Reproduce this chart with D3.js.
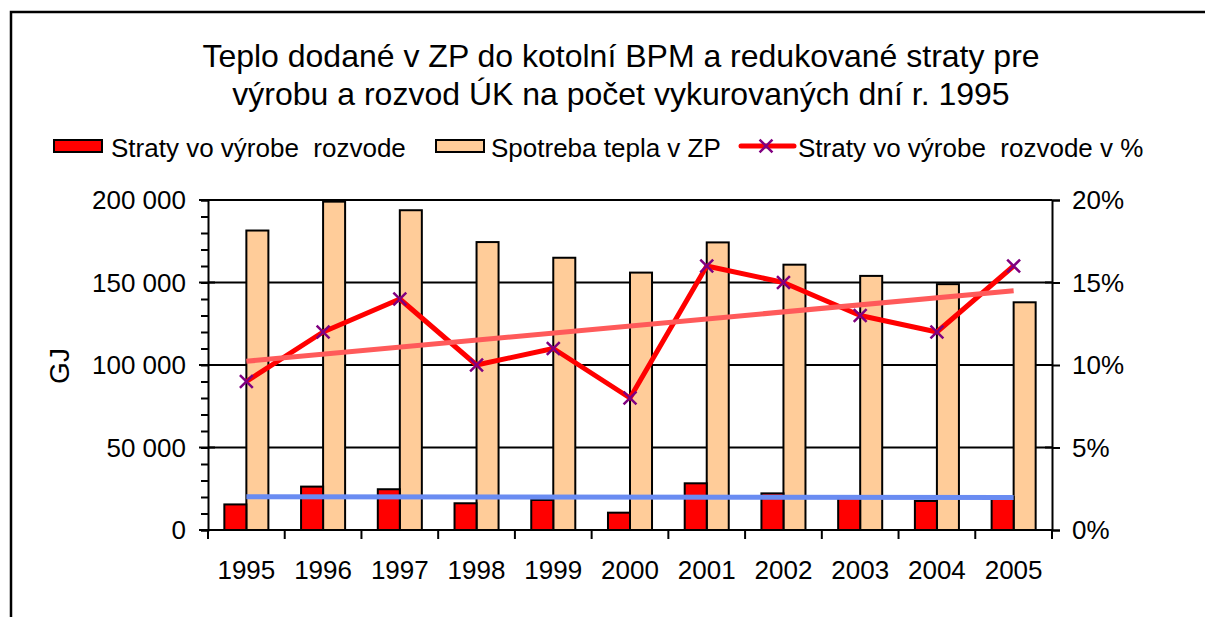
<!DOCTYPE html>
<html>
<head>
<meta charset="utf-8">
<script src="https://cdn.jsdelivr.net/npm/d3@7"></script>
<style>
  html, body { margin: 0; padding: 0; background: #fff; }
  svg { display: block; }
  text { font-family: "Liberation Sans", Arial, sans-serif; fill: #000; white-space: pre; }
</style>
</head>
<body>
<svg id="chart" width="1205" height="617"></svg>
<script>
const years = ["1995","1996","1997","1998","1999","2000","2001","2002","2003","2004","2005"];
const losses = [15500, 26300, 24700, 16200, 18200, 10500, 28300, 22200, 20000, 17600, 20000];
const consumption = [181500, 199000, 193800, 174500, 165000, 156000, 174300, 160800, 154000, 149000, 138000];
const lossPct = [9, 12, 14, 10, 11, 8, 16, 15, 13, 12, 16];
const leftTicks = [0, 50000, 100000, 150000, 200000];
const rightTicks = [0, 5, 10, 15, 20];
const titleLines = ["Teplo dodané v ZP do kotolní BPM a redukované straty pre", "výrobu a rozvod ÚK na počet vykurovaných dní r. 1995"];
const legendLabels = ["Straty vo výrobe  rozvode", "Spotreba tepla v ZP", "Straty vo výrobe  rozvode v %"];
const yLabel = "GJ";

const svg = d3.select("#chart");
const L = 208, R = 1052, T = 200, B = 530;

// outer border
svg.append("rect").attr("x", 11).attr("y", 12).attr("width", 1250).attr("height", 700)
  .attr("fill", "none").attr("stroke", "#000").attr("stroke-width", 2.5);

// title
svg.append("g").selectAll("text").data(titleLines).join("text")
  .attr("x", 621).attr("y", (d, i) => 67 + i * 38)
  .attr("text-anchor", "middle").attr("font-size", 32).text(d => d);

const x = d3.scaleBand().domain(years).range([L, R]).paddingInner(0.426).paddingOuter(0.213);
const xs = d3.scaleBand().domain(["loss", "cons"]).range([0, x.bandwidth()]);
const y = d3.scaleLinear().domain([0, 200000]).range([B, T]);
const y2 = d3.scaleLinear().domain([0, 20]).range([B, T]);

// gridlines
svg.append("g").selectAll("line").data(leftTicks.slice(1)).join("line")
  .attr("x1", L).attr("x2", R).attr("y1", d => y(d)).attr("y2", d => y(d))
  .attr("stroke", "#000").attr("stroke-width", 2);

// bars
const g = svg.append("g");
g.selectAll("rect.cons").data(consumption).join("rect").attr("class", "cons")
  .attr("x", (d, i) => x(years[i]) + xs("cons")).attr("width", xs.bandwidth())
  .attr("y", d => y(d)).attr("height", d => B - y(d))
  .attr("fill", "#ffcc99").attr("stroke", "#000").attr("stroke-width", 2);
g.selectAll("rect.loss").data(losses).join("rect").attr("class", "loss")
  .attr("x", (d, i) => x(years[i]) + xs("loss")).attr("width", xs.bandwidth())
  .attr("y", d => y(d)).attr("height", d => B - y(d))
  .attr("fill", "#ff0000").attr("stroke", "#000").attr("stroke-width", 2);

// axes lines
const axesG = svg.append("g");
const yAxisL = d3.axisLeft(y).tickValues(d3.range(0, 200001, 10000)).tickSize(7).tickFormat("");
axesG.append("g").attr("transform", `translate(${L},0)`).call(yAxisL)
  .call(a => a.selectAll("path,line").attr("stroke", "#000").attr("stroke-width", 2));
axesG.append("g").selectAll("line").data(leftTicks).join("line")
  .attr("x1", L - 9).attr("x2", L + 7).attr("y1", d => y(d)).attr("y2", d => y(d))
  .attr("stroke", "#000").attr("stroke-width", 2);
axesG.append("g").selectAll("text").data(leftTicks).join("text")
  .attr("x", 186).attr("y", d => y(d)).attr("dy", "0.36em")
  .attr("text-anchor", "end").attr("font-size", 26)
  .text(d => d3.format(",")(d).replace(/,/g, " "));

const yAxisR = d3.axisRight(y2).tickValues(rightTicks).tickSize(8).tickFormat("");
axesG.append("g").attr("transform", `translate(${R},0)`).call(yAxisR)
  .call(a => a.selectAll("path,line").attr("stroke", "#000").attr("stroke-width", 2));
axesG.append("g").selectAll("line").data(rightTicks).join("line")
  .attr("x1", R - 7).attr("x2", R).attr("y1", d => y2(d)).attr("y2", d => y2(d))
  .attr("stroke", "#000").attr("stroke-width", 2);
axesG.append("g").selectAll("text").data(rightTicks).join("text")
  .attr("x", 1072).attr("y", d => y2(d)).attr("dy", "0.36em")
  .attr("font-size", 26).text(d => d + "%");

// x axis
const xb = x.step();
const bounds = d3.range(years.length + 1).map(i => L + i * xb);
axesG.append("line").attr("x1", L).attr("x2", R).attr("y1", B).attr("y2", B)
  .attr("stroke", "#000").attr("stroke-width", 2);
axesG.append("g").selectAll("line").data(bounds).join("line")
  .attr("x1", d => d).attr("x2", d => d).attr("y1", B).attr("y2", B + 9)
  .attr("stroke", "#000").attr("stroke-width", 2);
axesG.append("g").selectAll("text").data(years).join("text")
  .attr("x", d => x(d) + x.bandwidth() / 2).attr("y", 579)
  .attr("text-anchor", "middle").attr("font-size", 26).text(d => d);

// y label
svg.append("text").attr("transform", "translate(69,366) rotate(-90)")
  .attr("text-anchor", "middle").attr("font-size", 28).text(yLabel);

// trend lines (linear regression)
function regress(vals) {
  const n = vals.length, mx = (n - 1) / 2, my = d3.mean(vals);
  let sxy = 0, sxx = 0;
  vals.forEach((v, i) => { sxy += (i - mx) * (v - my); sxx += (i - mx) * (i - mx); });
  const b = sxy / sxx, a = my - b * mx;
  return [a, a + b * (n - 1)];
}
const cx = d => x(d) + x.bandwidth() / 2;
const lossTrend = regress(losses);
const pctTrend = regress(lossPct);

svg.append("path")
  .attr("d", d3.line()([[cx(years[0]), y(lossTrend[0])], [cx(years[years.length - 1]), y(lossTrend[1])]]))
  .attr("stroke", "#6a8cf2").attr("stroke-width", 5).attr("fill", "none");

// percent line
const lineGen = d3.line().x((d, i) => cx(years[i])).y(d => y2(d));
svg.append("path").datum(lossPct).attr("d", lineGen)
  .attr("fill", "none").attr("stroke", "#ff0000").attr("stroke-width", 5).attr("stroke-linejoin", "round");

svg.append("path")
  .attr("d", d3.line()([[cx(years[0]), y2(pctTrend[0])], [cx(years[years.length - 1]), y2(pctTrend[1])]]))
  .attr("stroke", "#ff5a5a").attr("stroke-width", 5).attr("fill", "none");

const sym = d3.symbol().type(d3.symbolX).size(110);
svg.append("g").selectAll("path").data(lossPct).join("path")
  .attr("transform", (d, i) => `translate(${cx(years[i])},${y2(d)})`)
  .attr("d", sym).attr("fill", "none").attr("stroke", "#800080").attr("stroke-width", 2.5);

// legend
const lg = svg.append("g");
lg.append("rect").attr("x", 54).attr("y", 140).attr("width", 48).attr("height", 12)
  .attr("fill", "#ff0000").attr("stroke", "#000").attr("stroke-width", 2);
lg.append("text").attr("x", 111).attr("y", 157).attr("font-size", 26).text(legendLabels[0]);
lg.append("rect").attr("x", 436).attr("y", 140).attr("width", 48).attr("height", 12)
  .attr("fill", "#ffcc99").attr("stroke", "#000").attr("stroke-width", 2);
lg.append("text").attr("x", 491).attr("y", 157).attr("font-size", 26).text(legendLabels[1]);
lg.append("line").attr("x1", 741).attr("x2", 794).attr("y1", 146).attr("y2", 146)
  .attr("stroke", "#ff0000").attr("stroke-width", 5).attr("stroke-linecap", "round");
lg.append("path").attr("transform", "translate(766,146)").attr("d", sym)
  .attr("fill", "none").attr("stroke", "#800080").attr("stroke-width", 2.5);
lg.append("text").attr("x", 798).attr("y", 157).attr("font-size", 26).text(legendLabels[2]);
</script>
</body>
</html>
